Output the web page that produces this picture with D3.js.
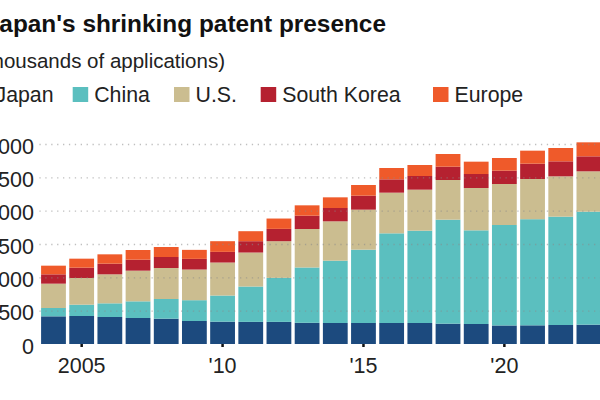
<!DOCTYPE html>
<html>
<head>
<meta charset="utf-8">
<script src="https://cdn.jsdelivr.net/npm/d3@7"></script>
<style>
  html, body { margin: 0; padding: 0; background: #fff; overflow: hidden; }
  svg { display: block; font-family: "Liberation Sans", Arial, sans-serif; }
</style>
</head>
<body>
<svg id="chart" width="600" height="400"></svg>
<script>
// ---- Data (thousands of applications) ----
const years = [2004,2005,2006,2007,2008,2009,2010,2011,2012,2013,2014,2015,2016,2017,2018,2019,2020,2021,2022,2023];
const japan  = [415,420,405,390,380,345,335,332,332,318,315,315,315,315,305,300,278,280,285,290];
const china  = [125,170,205,250,295,312,392,530,660,830,935,1100,1345,1385,1560,1405,1507,1592,1625,1695];
const us     = [365,400,435,460,465,460,495,510,550,577,590,600,610,615,595,635,615,603,605,605];
const korea  = [140,155,160,165,165,160,160,170,185,200,200,210,200,205,200,210,200,230,225,225];
const europe = [130,135,140,145,150,135,160,150,155,155,160,160,170,165,190,185,190,195,200,210];

const seriesNames = ["Japan", "China", "U.S.", "South Korea", "Europe"];
const seriesValues = [japan, china, us, korea, europe];
const colors = ["#1c4a7e", "#5bbfbf", "#cbbd90", "#b52130", "#ef5a2a"];

const yTicks = [0, 500, 1000, 1500, 2000, 2500, 3000];
const xTickYears = [2005, 2010, 2015, 2020];
const xTickLabels = ["2005", "'10", "'15", "'20"];

const titleText = "Japan's shrinking patent presence";
const subtitleText = "(Thousands of applications)";

// ---- Build table ----
const table = years.map((yr, i) => {
  const row = { year: yr };
  seriesNames.forEach((n, k) => { row[n] = seriesValues[k][i]; });
  return row;
});
const stacked = d3.stack().keys(seriesNames)(table);

// ---- Layout ----
const svg = d3.select("#chart");
const plotLeft = 39.4, plotRight = 603, plotTop = 144, plotBottom = 344;

const x = d3.scaleBand().domain(years).range([plotLeft, plotRight])
  .paddingInner(0.12).paddingOuter(0.06);
const y = d3.scaleLinear().domain([0, 3000]).range([plotBottom, plotTop]);
const color = d3.scaleOrdinal().domain(seriesNames).range(colors);

// Title & subtitle
svg.append("text")
  .attr("x", 386).attr("y", 32)
  .attr("text-anchor", "end")
  .attr("font-size", 24.4).attr("font-weight", "bold").attr("fill", "#111")
  .text(titleText);
svg.append("text")
  .attr("x", 225).attr("y", 68)
  .attr("text-anchor", "end")
  .attr("font-size", 20.5).attr("fill", "#222")
  .text(subtitleText);

// Legend
const legendX = [-26, 72.7, 174, 260.7, 433];
const legend = svg.append("g");
seriesNames.forEach((n, i) => {
  const g = legend.append("g").attr("transform", `translate(${legendX[i]},0)`);
  g.append("rect").attr("x", 0).attr("y", 87).attr("width", 15.5).attr("height", 15)
    .attr("fill", color(n));
  g.append("text").attr("x", 21.5).attr("y", 101.5)
    .attr("font-size", 21.3).attr("fill", "#222").text(n);
});

// Bars
const layers = svg.append("g").selectAll("g").data(stacked).join("g")
  .attr("fill", d => color(d.key));
layers.selectAll("rect").data(d => d).join("rect")
  .attr("x", d => x(d.data.year))
  .attr("width", x.bandwidth())
  .attr("y", d => y(d[1]))
  .attr("height", d => y(d[0]) - y(d[1]));

// Y axis labels
const yAxis = d3.axisLeft(y).tickValues(yTicks).tickFormat(d3.format(",")).tickSize(0).tickPadding(0);
const yG = svg.append("g").attr("transform", `translate(34,0)`).call(yAxis);
yG.select(".domain").remove();
yG.selectAll("text").attr("font-size", 21.5).attr("fill", "#222").attr("dy", "0.42em")
  .attr("font-family", "'Liberation Sans', Arial, sans-serif");

// Gridlines (drawn over bars, dotted)
const grid = d3.axisLeft(y).tickValues(yTicks.filter(d => d > 0)).tickSize(-(plotRight - plotLeft)).tickFormat("");
const gG = svg.append("g").attr("transform", `translate(${plotLeft},0)`).call(grid);
gG.select(".domain").remove();
gG.selectAll("line").attr("stroke", "#8a8a8a").attr("stroke-opacity", 0.55)
  .attr("stroke-width", 1.3).attr("stroke-dasharray", "1.3,4.6");

// X axis
const xAxis = d3.axisBottom(x).tickValues(xTickYears)
  .tickFormat(d => xTickLabels[xTickYears.indexOf(d)]).tickSize(3).tickPadding(11);
const xG = svg.append("g").attr("transform", `translate(0,${plotBottom})`).call(xAxis);
xG.select(".domain").remove();
xG.selectAll("line").attr("stroke", "#111").attr("stroke-width", 2.5);
xG.selectAll("text").attr("font-size", 21.5).attr("fill", "#222")
  .attr("font-family", "'Liberation Sans', Arial, sans-serif");
</script>
</body>
</html>
